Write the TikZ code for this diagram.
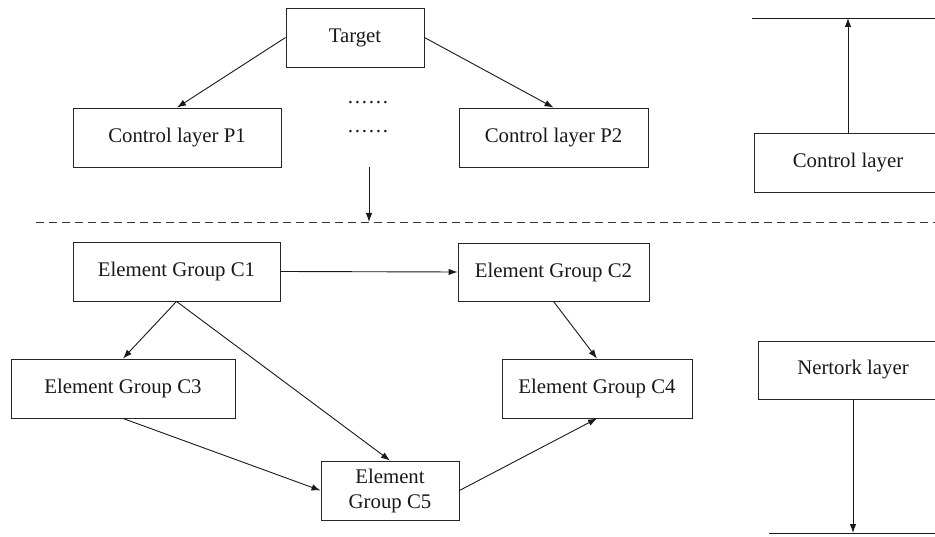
\documentclass[tikz,border=0pt]{standalone}
\usepackage{fontspec}
\setmainfont{Liberation Serif}
\usetikzlibrary{arrows.meta}
\begin{document}
\begin{tikzpicture}[x=1pt,y=-1pt,
  box/.style={draw=black!85,line width=0.9pt,rectangle,minimum height=59pt,inner sep=0pt,
    font=\fontsize{20.8}{23}\selectfont,text=black!90,align=center},
  arr/.style={draw=black!90,line width=0.9pt,-{Latex[length=9pt,width=6.5pt]}},
  plain/.style={draw=black!90,line width=0.9pt},
  dots/.style={font=\fontsize{20.8}{23}\selectfont,text=black!90,inner sep=0pt}]
\clip (0,0) rectangle (935,537);
\fill[white] (0,0) rectangle (935,537);
% top control part
\node[box,minimum width=138pt] (t) at (355,37.5) {Target};
\node[box,minimum width=208pt] (p1) at (177,137.5) {Control layer P1};
\node[box,minimum width=189pt] (p2) at (553.5,137.5) {Control layer P2};
\node[dots] (d1) at (368,103) {……};
\node[dots] (d2) at (368,132) {……};
\draw[arr] (t.west) -- (p1.north);
\draw[arr] (t.east) -- (p2.north);
\coordinate (ds) at (369,167);
\coordinate (de) at (369,222);
\draw[arr] (ds) -- (de);
% dashed separator
\coordinate (sl) at (36,222);
\coordinate (sr) at (940,222);
\draw[black!80,line width=0.9pt,dash pattern=on 8pt off 5pt] (sl) -- (sr);
% element groups
\node[box,minimum width=207pt] (c1) at (176.5,271.5) {Element Group C1};
\node[box,minimum width=191pt,minimum height=58pt] (c2) at (553.5,272) {Element Group C2};
\node[box,minimum width=224pt] (c3) at (123,388.5) {Element Group C3};
\node[box,minimum width=190pt] (c4) at (597,388.5) {Element Group C4};
\node[box,minimum width=138pt,font=\fontsize{20.8}{25}\selectfont] (c5) at (390,490.5) {Element\\Group C5};
\draw[arr] (c1.east) -- (c2.west);
\draw[arr] (c1.south) -- (c3.north);
\draw[arr] (c1.south) -- (c5.north);
\draw[arr] (c2.south) -- (c4.north);
\draw[arr] (c3.south) -- (c5.west);
\draw[arr] (c5.east) -- (c4.south);
% right legend
\coordinate (tl) at (752,18);
\coordinate (tr) at (940,18);
\draw[plain] (tl) -- (tr);
\node[box,minimum width=188pt] (ctl) at (848,162.5) {Control layer};
\draw[arr] (ctl.north) -- (ctl.north |- tl);
\node[box,minimum width=190pt,minimum height=58pt] (net) at (853,370) {Nertork layer};
\coordinate (bl) at (769,533);
\coordinate (br) at (940,533);
\draw[plain] (bl) -- (br);
\draw[arr] (net.south) -- (net.south |- bl);
\end{tikzpicture}
\end{document}
